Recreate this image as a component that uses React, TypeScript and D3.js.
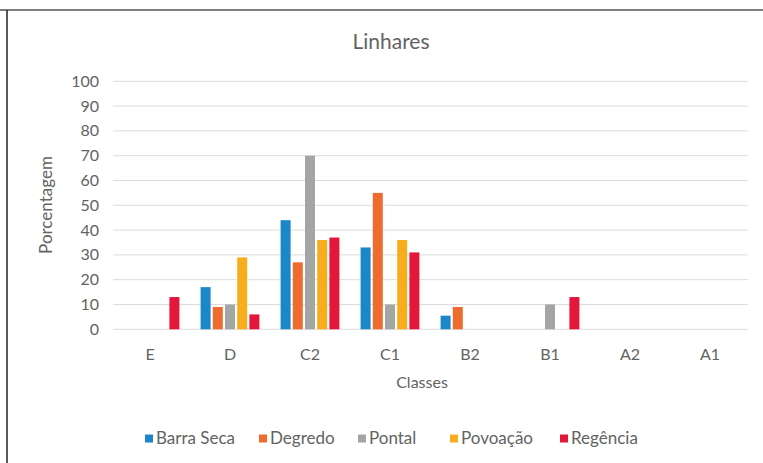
import React from "react";
import * as d3 from "d3";

const categories = ["E", "D", "C2", "C1", "B2", "B1", "A2", "A1"];
const seriesNames = ["Barra Seca", "Degredo", "Pontal", "Povoação", "Regência"];
const barraSeca = [0, 17, 44, 33, 5.5, 0, 0, 0];
const degredo = [0, 9, 27, 55, 9, 0, 0, 0];
const pontal = [0, 10, 70, 10, 0, 10, 0, 0];
const povoacao = [0, 29, 36, 36, 0, 0, 0, 0];
const regencia = [13, 6, 37, 31, 0, 13, 0, 0];
const seriesValues = [barraSeca, degredo, pontal, povoacao, regencia];
const colors = ["#1b87c9", "#ef6c2f", "#a5a5a5", "#f7ae1c", "#e3173a"];
const yTicks = [0, 10, 20, 30, 40, 50, 60, 70, 80, 90, 100];

const W = 763;
const H = 463;
const FONT = "Lato, 'Open Sans', sans-serif";
const TXT = "#636363";

export default function App() {
  const x0 = d3.scaleBand<string>().domain(categories).range([110, 750]).paddingInner(0).paddingOuter(0);
  const y = d3.scaleLinear().domain([0, 100]).range([329.3, 81.3]);
  const half = 30.5;
  const x1 = d3
    .scaleBand<string>()
    .domain(seriesNames)
    .range([-half, half])
    .paddingInner(0.18)
    .paddingOuter(0.09);

  const legendX = [145, 259, 358, 450, 560];

  return (
    <svg width={W} height={H} style={{ position: "absolute", left: 0, top: 0, background: "#fff" }}>
      <rect x={0} y={0} width={W} height={H} fill="#fff" />
      <line x1={0} x2={W} y1={10} y2={10} stroke="#555" strokeWidth={1.5} />
      <line x1={7} x2={7} y1={10} y2={H} stroke="#222" strokeWidth={1.5} />
      <text x={391} y={49} textAnchor="middle" fontFamily={FONT} fontSize={21} fill={TXT}>
        Linhares
      </text>
      {yTicks.map((t) => (
        <g key={t}>
          <line x1={113} x2={748} y1={y(t)} y2={y(t)} stroke="#dcdcdc" strokeWidth={1} />
          <text x={99} y={y(t) + 5.5} textAnchor="end" fontFamily={FONT} fontSize={16} fill={TXT}>
            {t}
          </text>
        </g>
      ))}
      <text
        transform={`translate(52,205) rotate(-90)`}
        textAnchor="middle"
        fontFamily={FONT}
        fontSize={17}
        fill={TXT}
      >
        Porcentagem
      </text>
      {categories.map((c, i) => {
        const cx = (x0(c) as number) + x0.bandwidth() / 2;
        return (
          <g key={c}>
            {seriesNames.map((s, j) => {
              const v = seriesValues[j][i];
              if (!v) return null;
              return (
                <rect
                  key={s}
                  x={cx + (x1(s) as number)}
                  width={x1.bandwidth()}
                  y={y(v)}
                  height={y(0) - y(v)}
                  fill={colors[j]}
                />
              );
            })}
            <text x={cx} y={360} textAnchor="middle" fontFamily={FONT} fontSize={16} fill={TXT}>
              {c}
            </text>
          </g>
        );
      })}
      <text x={422} y={388} textAnchor="middle" fontFamily={FONT} fontSize={16} fill={TXT}>
        Classes
      </text>
      {seriesNames.map((s, j) => (
        <g key={s}>
          <rect x={legendX[j]} y={434.5} width={8} height={8} fill={colors[j]} />
          <text x={legendX[j] + 11} y={444} fontFamily={FONT} fontSize={17} fill={TXT}>
            {s}
          </text>
        </g>
      ))}
    </svg>
  );
}
